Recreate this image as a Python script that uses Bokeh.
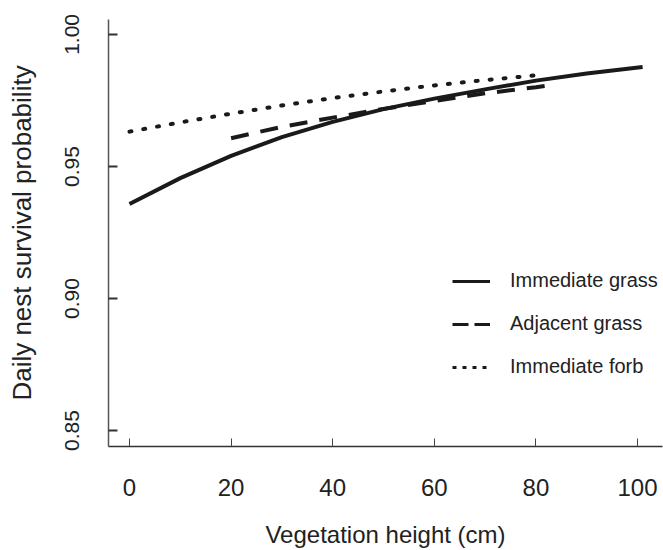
from bokeh.plotting import figure
from bokeh.models import Range1d, FixedTicker, Legend, LegendItem
from bokeh.embed import file_html
from bokeh.resources import INLINE

# ---- data ----
x_imm_grass = [0, 10, 20, 30, 40, 50, 60, 70, 80, 90, 101]
y_imm_grass = [0.9358, 0.9456, 0.9540, 0.9611, 0.9669, 0.9717, 0.9757, 0.9792, 0.9825, 0.9852, 0.9877]

x_adj_grass = [20, 30, 40, 50, 60, 70, 80, 84]
y_adj_grass = [0.9607, 0.9650, 0.9685, 0.9718, 0.9748, 0.9777, 0.9800, 0.9810]

x_imm_forb = [0, 10, 20, 30, 40, 50, 60, 70, 80]
y_imm_forb = [0.9632, 0.9667, 0.9700, 0.9731, 0.9759, 0.9784, 0.9807, 0.9827, 0.9845]

x_ticks = [0, 20, 40, 60, 80, 100]
y_ticks = [0.85, 0.90, 0.95, 1.00]
y_tick_labels = ["0.85", "0.90", "0.95", "1.00"]
series_names = ["Immediate grass", "Adjacent grass", "Immediate forb"]
x_title = "Vegetation height (cm)"
y_title = "Daily nest survival probability"

FONT = "Liberation Sans"
TXT = "#222222"
INK = "#1a1a1a"
NAN = float("nan")

p = figure(width=663, height=550, output_backend="svg", toolbar_location=None,
           x_range=Range1d(-4.13, 104.92), y_range=Range1d(0.84397, 1.00565),
           min_border_left=108, min_border_right=1, min_border_top=19,
           min_border_bottom=102)

p.outline_line_color = None
p.grid.visible = False
p.background_fill_color = "white"
p.border_fill_color = "white"

r1 = p.line(x_imm_grass, y_imm_grass, line_color=INK, line_width=4)
r2 = p.line(x_adj_grass, y_adj_grass, line_color=INK, line_width=4,
            line_dash="18 12")
r3 = p.line(x_imm_forb, y_imm_forb, line_color=INK, line_width=4,
            line_dash="2 12", line_cap="round")

# legend-only renderers (no visible data) with legend-style dashes
l1 = p.line([NAN], [NAN], line_color=INK, line_width=3)
l2 = p.line([NAN], [NAN], line_color=INK, line_width=3, line_dash="16 6")
l3 = p.line([NAN], [NAN], line_color=INK, line_width=3, line_dash="4 6")

legend = Legend(items=[LegendItem(label=series_names[0], renderers=[l1]),
                       LegendItem(label=series_names[1], renderers=[l2]),
                       LegendItem(label=series_names[2], renderers=[l3])],
                location=(344, 68), orientation="vertical",
                glyph_width=38, glyph_height=20, label_height=20,
                spacing=20, label_standoff=20, padding=0, margin=0,
                border_line_color=None, background_fill_alpha=0,
                label_text_font=FONT, label_text_font_size="20px",
                label_text_color=TXT)
p.add_layout(legend, "center")

# x axis
xa = p.xaxis[0]
xa.ticker = FixedTicker(ticks=x_ticks)
xa.axis_label = x_title
xa.axis_label_text_font = FONT
xa.axis_label_text_font_size = "24px"
xa.axis_label_text_font_style = "normal"
xa.axis_label_text_color = TXT
xa.axis_label_standoff = 22
xa.major_label_text_font = FONT
xa.major_label_text_font_size = "24px"
xa.major_label_text_color = TXT
xa.major_label_standoff = 32
xa.major_tick_in = 8
xa.major_tick_out = 0
xa.major_tick_line_color = "#444444"
xa.major_tick_line_width = 1
xa.minor_tick_line_color = None
xa.axis_line_color = "#333333"
xa.axis_line_width = 1.5

# y axis
ya = p.yaxis[0]
ya.ticker = FixedTicker(ticks=y_ticks)
ya.major_label_overrides = {t: s for t, s in zip(y_ticks, y_tick_labels)}
ya.major_label_orientation = "vertical"
ya.axis_label = y_title
ya.axis_label_text_font = FONT
ya.axis_label_text_font_size = "26px"
ya.axis_label_text_font_style = "normal"
ya.axis_label_text_color = TXT
ya.axis_label_standoff = 26
ya.major_label_text_font = FONT
ya.major_label_text_font_size = "21px"
ya.major_label_text_color = TXT
ya.major_label_standoff = 29
ya.major_tick_in = 9
ya.major_tick_out = 0
ya.major_tick_line_color = "#333333"
ya.major_tick_line_width = 2
ya.minor_tick_line_color = None
ya.axis_line_color = "#555555"
ya.axis_line_width = 1.5

open("out.html", "w").write(file_html(p, INLINE))
